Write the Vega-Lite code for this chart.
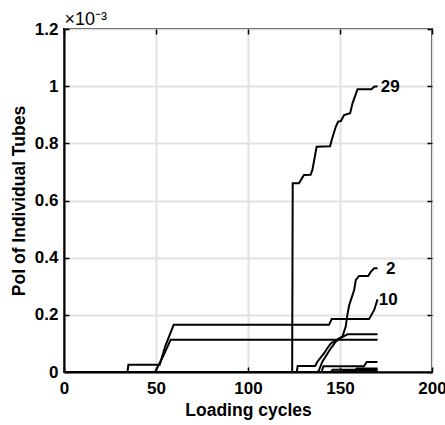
{
  "$schema": "https://vega.github.io/schema/vega-lite/v6.json",
  "width": 368,
  "height": 343,
  "autosize": {"type": "none"},
  "padding": {"left": 64, "top": 29, "right": 13, "bottom": 53},
  "background": "white",
  "config": {
    "view": {"stroke": "black", "strokeWidth": 2},
    "font": "Liberation Sans",
    "axis": {
      "gridColor": "#e2e2e2",
      "gridWidth": 2,
      "domainColor": "black",
      "domainWidth": 2,
      "tickColor": "black",
      "tickWidth": 1.5,
      "tickSize": -5,
      "labelFlush": false,
      "labelOverlap": false,
      "labelFont": "Liberation Sans",
      "labelFontSize": 17,
      "labelFontWeight": "bold",
      "labelColor": "black",
      "titleFont": "Liberation Sans",
      "titleFontSize": 17.5,
      "titleFontWeight": "bold",
      "titleColor": "black"
    }
  },
  "resolve": {"axis": {"x": "independent", "y": "independent"}},
  "layer": [
    {
      "data": {
        "values": [
          {"series": "29", "cycle": 0, "poi": 0},
          {"series": "29", "cycle": 124, "poi": 0},
          {"series": "29", "cycle": 124.3, "poi": 0.66},
          {"series": "29", "cycle": 127.7, "poi": 0.66},
          {"series": "29", "cycle": 130.4, "poi": 0.689},
          {"series": "29", "cycle": 134, "poi": 0.69},
          {"series": "29", "cycle": 135, "poi": 0.707},
          {"series": "29", "cycle": 137.3, "poi": 0.788},
          {"series": "29", "cycle": 144.6, "poi": 0.79},
          {"series": "29", "cycle": 145.5, "poi": 0.812},
          {"series": "29", "cycle": 147.7, "poi": 0.858},
          {"series": "29", "cycle": 149, "poi": 0.876},
          {"series": "29", "cycle": 150.5, "poi": 0.878},
          {"series": "29", "cycle": 152.2, "poi": 0.899},
          {"series": "29", "cycle": 155.5, "poi": 0.905},
          {"series": "29", "cycle": 156.8, "poi": 0.94},
          {"series": "29", "cycle": 159.5, "poi": 0.989},
          {"series": "29", "cycle": 167.1, "poi": 0.989},
          {"series": "29", "cycle": 168.5, "poi": 0.998},
          {"series": "29", "cycle": 170.4, "poi": 1.0},
          {"series": "10", "cycle": 0, "poi": 0},
          {"series": "10", "cycle": 34.5, "poi": 0},
          {"series": "10", "cycle": 35, "poi": 0.025},
          {"series": "10", "cycle": 52, "poi": 0.025},
          {"series": "10", "cycle": 55, "poi": 0.09},
          {"series": "10", "cycle": 59.6, "poi": 0.165},
          {"series": "10", "cycle": 144, "poi": 0.165},
          {"series": "10", "cycle": 145.5, "poi": 0.185},
          {"series": "10", "cycle": 165.8, "poi": 0.185},
          {"series": "10", "cycle": 168.6, "poi": 0.217},
          {"series": "10", "cycle": 170.4, "poi": 0.254},
          {"series": "B", "cycle": 0, "poi": 0},
          {"series": "B", "cycle": 49.5, "poi": 0},
          {"series": "B", "cycle": 53.8, "poi": 0.054},
          {"series": "B", "cycle": 58, "poi": 0.113},
          {"series": "B", "cycle": 170.4, "poi": 0.113},
          {"series": "2", "cycle": 0, "poi": 0},
          {"series": "2", "cycle": 138, "poi": 0},
          {"series": "2", "cycle": 138.6, "poi": 0.007},
          {"series": "2", "cycle": 140.4, "poi": 0.036},
          {"series": "2", "cycle": 142.2, "poi": 0.054},
          {"series": "2", "cycle": 145, "poi": 0.083},
          {"series": "2", "cycle": 147.7, "poi": 0.106},
          {"series": "2", "cycle": 151.3, "poi": 0.124},
          {"series": "2", "cycle": 153.1, "poi": 0.159},
          {"series": "2", "cycle": 154, "poi": 0.2},
          {"series": "2", "cycle": 155, "poi": 0.234},
          {"series": "2", "cycle": 157.7, "poi": 0.287},
          {"series": "2", "cycle": 158.6, "poi": 0.322},
          {"series": "2", "cycle": 160.4, "poi": 0.336},
          {"series": "2", "cycle": 165.3, "poi": 0.336},
          {"series": "2", "cycle": 166.8, "poi": 0.351},
          {"series": "2", "cycle": 168.6, "poi": 0.363},
          {"series": "2", "cycle": 170.4, "poi": 0.363},
          {"series": "C", "cycle": 0, "poi": 0},
          {"series": "C", "cycle": 126.5, "poi": 0},
          {"series": "C", "cycle": 127, "poi": 0.021},
          {"series": "C", "cycle": 136.5, "poi": 0.021},
          {"series": "C", "cycle": 137.7, "poi": 0.036},
          {"series": "C", "cycle": 141.3, "poi": 0.065},
          {"series": "C", "cycle": 143.1, "poi": 0.083},
          {"series": "C", "cycle": 145, "poi": 0.1},
          {"series": "C", "cycle": 149.5, "poi": 0.118},
          {"series": "C", "cycle": 152, "poi": 0.125},
          {"series": "C", "cycle": 154, "poi": 0.132},
          {"series": "C", "cycle": 170.4, "poi": 0.132},
          {"series": "D", "cycle": 0, "poi": 0},
          {"series": "D", "cycle": 140, "poi": 0},
          {"series": "D", "cycle": 141, "poi": 0.02},
          {"series": "D", "cycle": 163, "poi": 0.02},
          {"series": "D", "cycle": 164.5, "poi": 0.035},
          {"series": "D", "cycle": 170.4, "poi": 0.035},
          {"series": "E", "cycle": 0, "poi": 0},
          {"series": "E", "cycle": 145, "poi": 0},
          {"series": "E", "cycle": 146, "poi": 0.008},
          {"series": "E", "cycle": 170.4, "poi": 0.008},
          {"series": "F", "cycle": 0, "poi": 0},
          {"series": "F", "cycle": 151, "poi": 0},
          {"series": "F", "cycle": 152, "poi": 0.004},
          {"series": "F", "cycle": 170.4, "poi": 0.004},
          {"series": "G", "cycle": 0, "poi": 0},
          {"series": "G", "cycle": 158, "poi": 0},
          {"series": "G", "cycle": 159, "poi": 0.012},
          {"series": "G", "cycle": 170.4, "poi": 0.012}
        ]
      },
      "mark": {"type": "line", "color": "black", "strokeWidth": 2},
      "encoding": {
        "x": {"field": "cycle", "type": "quantitative", "scale": {"domain": [0, 200], "nice": false},
              "axis": {"values": [0, 50, 100, 150, 200], "grid": true, "title": "Loading cycles", "labelPadding": 13, "titlePadding": 5}},
        "y": {"field": "poi", "type": "quantitative", "scale": {"domain": [0, 1.2], "nice": false},
              "axis": {"values": [0, 0.2, 0.4, 0.6, 0.8, 1, 1.2], "grid": true, "format": "~g", "title": "PoI of Individual Tubes", "labelPadding": 11, "titlePadding": 6}},
        "detail": {"field": "series", "type": "nominal"}
      }
    },
    {
      "data": {
        "values": [
          {"label": "29", "cycle": 172.2, "poi": 0.998},
          {"label": "2", "cycle": 175, "poi": 0.36},
          {"label": "10", "cycle": 171.1, "poi": 0.252}
        ]
      },
      "mark": {"type": "text", "align": "left", "baseline": "middle", "fontSize": 17, "fontWeight": "bold", "font": "Liberation Sans", "color": "black"},
      "encoding": {
        "x": {"field": "cycle", "type": "quantitative",
              "axis": {"orient": "top", "values": [0, 50, 100, 150, 200], "labels": false, "grid": false, "domain": false,
                       "title": "×10⁻³", "titleAnchor": "start", "titleAlign": "left", "titleBaseline": "alphabetic",
                       "titleFontWeight": "normal", "titleFontSize": 18, "titlePadding": 4}},
        "y": {"field": "poi", "type": "quantitative",
              "axis": {"orient": "right", "values": [0, 0.2, 0.4, 0.6, 0.8, 1, 1.2], "labels": false, "title": null, "grid": false, "domain": false}},
        "text": {"field": "label"}
      }
    }
  ]
}
